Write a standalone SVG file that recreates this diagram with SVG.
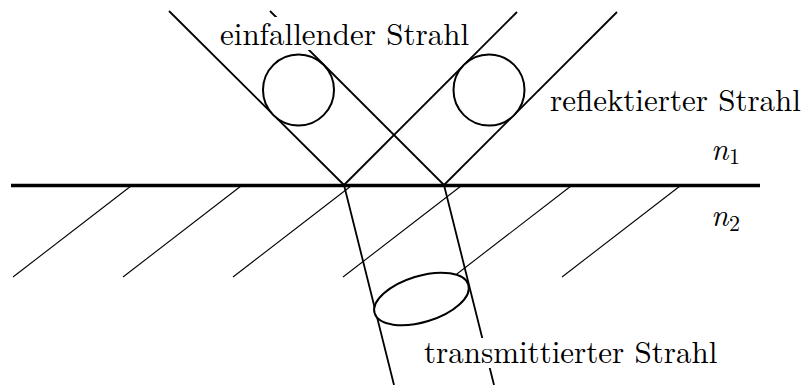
<svg xmlns="http://www.w3.org/2000/svg" width="807" height="385" viewBox="0 0 807 385">
<style>
.beam{stroke:#000;stroke-width:1.8;fill:none;stroke-linecap:butt}
.hatch{stroke:#000;stroke-width:1.1;fill:none}
.surf{stroke:#000;stroke-width:3.4;fill:none}
.ring{stroke:#000;stroke-width:2;fill:#fff}
text{font-family:'Latin Modern Roman','Liberation Serif',serif;fill:#000}
.lbl{font-size:31px}
.math{font-style:italic;font-size:31px}
.sub{font-size:22px}
.bg{fill:#fff}
</style>
<rect width="807" height="385" fill="#fff"/>
<g id="hatching">
<line class="hatch" x1="131" y1="186" x2="13" y2="277"/>
<line class="hatch" x1="241" y1="186" x2="123" y2="277"/>
<line class="hatch" x1="351" y1="186" x2="233" y2="277"/>
<line class="hatch" x1="461" y1="186" x2="343" y2="277"/>
<line class="hatch" x1="571" y1="186" x2="453" y2="277"/>
<line class="hatch" x1="680" y1="186" x2="562" y2="277"/>
</g>
<g id="connectors">
<line class="beam" x1="169" y1="11" x2="344" y2="185"/>
<line class="beam" x1="270" y1="11" x2="444" y2="185"/>
<line class="beam" x1="344" y1="185" x2="517" y2="12"/>
<line class="beam" x1="444" y1="185" x2="617" y2="12"/>
<line class="beam" x1="344" y1="185" x2="394" y2="385"/>
<line class="beam" x1="444" y1="185" x2="494" y2="385"/>
</g>
<g id="surface">
<line class="surf" x1="11" y1="185.5" x2="760" y2="185.5"/>
</g>
<g id="incident-beam">
<circle class="ring" cx="298.5" cy="90" r="35.5"/>
<rect class="bg" x="216" y="17" width="262" height="33"/>
<text class="lbl" x="220" y="45">einfallender Strahl</text>
</g>
<g id="reflected-beam">
<circle class="ring" cx="489" cy="90" r="35.5"/>
<text class="lbl" x="550" y="111">reflektierter Strahl</text>
</g>
<g id="transmitted-beam">
<ellipse class="ring" cx="421.5" cy="299" rx="49" ry="23" transform="rotate(-17 421.5 299)"/>
<rect class="bg" x="422" y="338" width="296" height="30"/>
<text class="lbl" x="424" y="363">transmittierter Strahl</text>
</g>
<g id="n1">
<text class="math" x="711" y="160">n</text>
<text class="sub" x="729" y="164">1</text>
</g>
<g id="n2">
<text class="math" x="711" y="226">n</text>
<text class="sub" x="729" y="231">2</text>
</g>
</svg>
